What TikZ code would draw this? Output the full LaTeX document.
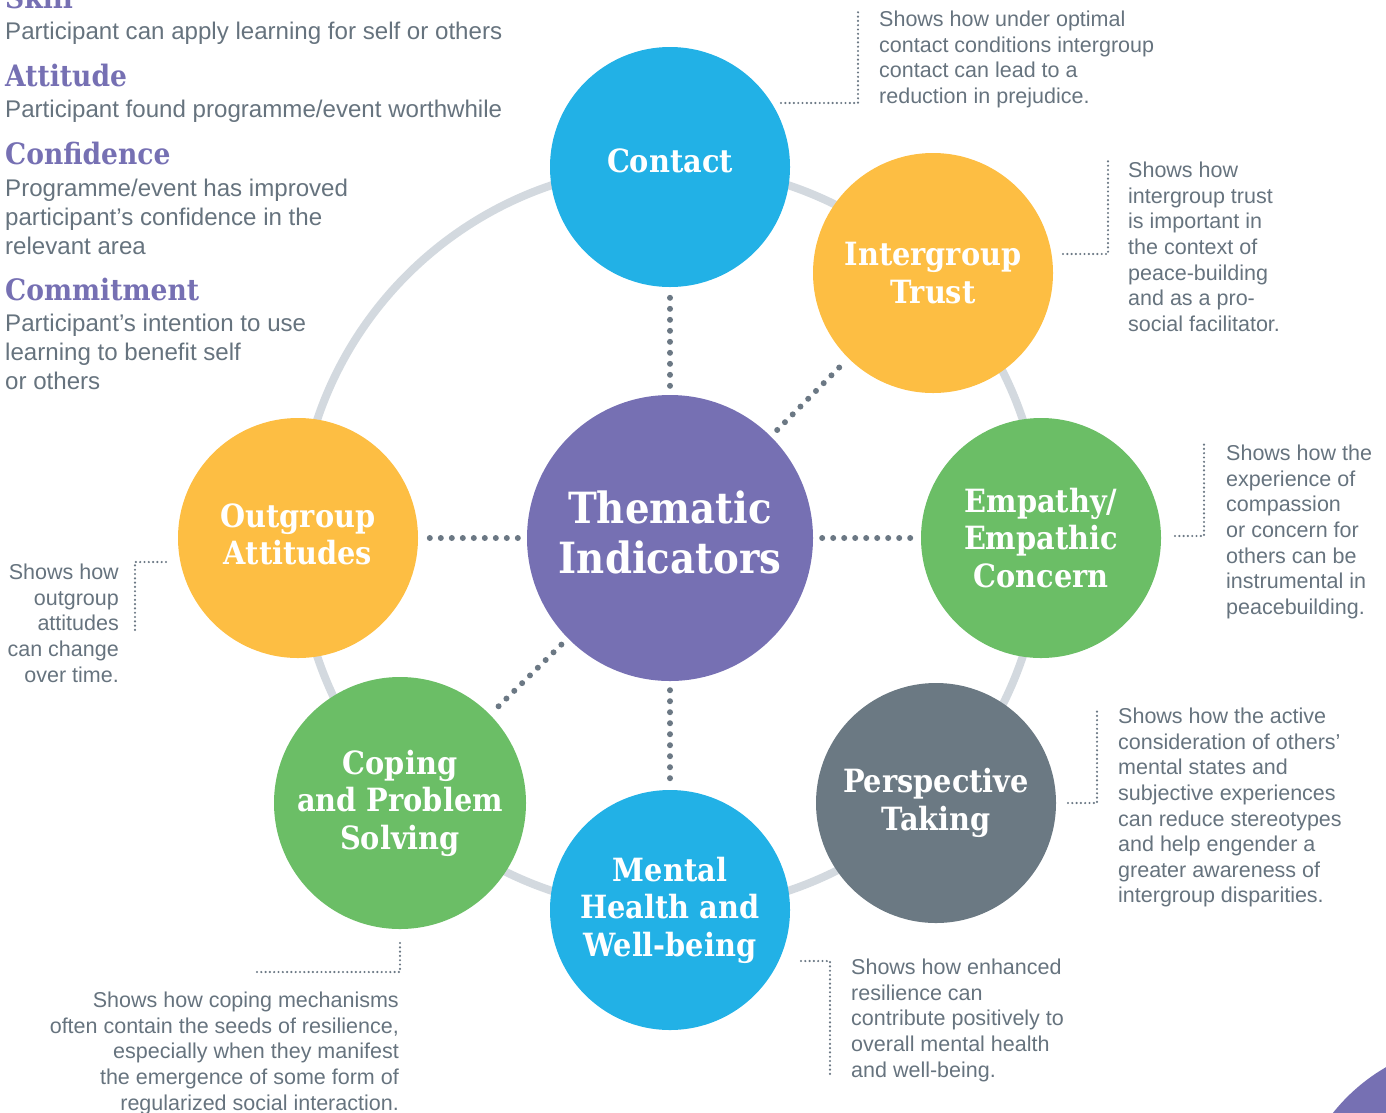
\documentclass[tikz,border=0pt]{standalone}
\usepackage{fontspec}
\setmainfont{Liberation Sans}
\newfontfamily\slabfont[FakeStretch=0.9]{DejaVu Serif}

\definecolor{cblue}{HTML}{22B1E6}
\definecolor{cyellow}{HTML}{FDBE43}
\definecolor{cgreen}{HTML}{6BBE66}
\definecolor{cslate}{HTML}{6B7983}
\definecolor{cpurple}{HTML}{7670B3}
\definecolor{cring}{HTML}{D3D9DF}
\definecolor{ctext}{HTML}{66737E}
\definecolor{cdot}{HTML}{6B7884}

\tikzset{
  bubble/.style={circle, minimum size=240pt, inner sep=0pt, text=white, align=center,
    font=\slabfont\bfseries\fontsize{32}{37.5}\selectfont},
  hubdots/.style={cdot, line width=6pt, line cap=round, dash pattern=on 0pt off 11pt,
    shorten <=9pt, shorten >=9pt},
  leader/.style={cdot, line width=2.4pt, line cap=round, dash pattern=on 0pt off 4.3pt},
  note/.style={text=ctext, font=\fontsize{21.5}{25.6}\selectfont, inner sep=0pt},
  heading/.style={text=cpurple, font=\slabfont\bfseries\fontsize{29.5}{30}\selectfont,
    inner sep=0pt, anchor=base west},
  body/.style={text=ctext, font=\fontsize{24.1}{28.6}\selectfont, inner sep=0pt,
    anchor=base west, align=left},
}

\begin{document}
\begin{tikzpicture}[x=1pt, y=-1pt]
\useasboundingbox (0,0) rectangle (1386,1112);
\begin{scope}
\clip (0,0) rectangle (1386,1112);

% corner disc
\fill[cpurple] (1480,1230) circle[radius=188];

% outer ring through the indicator bubbles
\draw[cring, line width=8pt] (670,538) circle[radius=372];

% indicator bubbles
\node[bubble, fill=cpurple, minimum size=286pt, text depth=12pt,
  font=\slabfont\bfseries\fontsize{43}{50}\selectfont] (hub) at (670,538) {Thematic\\Indicators};
\node[bubble, fill=cblue, text depth=12pt] (contact) at (670,167) {Contact};
\node[bubble, fill=cyellow] (trust) at (933,273) {Intergroup\\Trust};
\node[bubble, fill=cgreen] (empathy) at (1041,538) {Empathy/\\Empathic\\Concern};
\node[bubble, fill=cslate] (perspective) at (936,803) {Perspective\\Taking};
\node[bubble, fill=cblue] (mental) at (670,910) {Mental\\Health and\\Well-being};
\node[bubble, fill=cgreen, minimum size=252pt] (coping) at (400,803) {Coping\\and Problem\\Solving};
\node[bubble, fill=cyellow, text depth=8pt] (outgroup) at (298,538) {Outgroup\\Attitudes};

% dotted spokes from the hub
\draw[hubdots] (hub) -- (contact);
\draw[hubdots] (hub) -- (trust);
\draw[hubdots] (hub) -- (empathy);
\draw[hubdots] (hub) -- (mental);
\draw[hubdots] (hub) -- (coping);
\draw[hubdots] (hub) -- (outgroup);

% definitions list (multi-line blocks sit on their last baseline)
\node[heading] (hskill) at (5,8) {Skill};
\node[body] (bskill) at (5,39) {Participant can apply learning for self or others};
\node[heading] (hattitude) at (5,86) {Attitude};
\node[body] (battitude) at (5,117) {Participant found programme/event worthwhile};
\node[heading] (hconfidence) at (5,164) {Confidence};
\node[body] (bconfidence) at (5,254) {Programme/event has improved\\participant’s confidence in the\\relevant area};
\node[heading] (hcommitment) at (5,300) {Commitment};
\node[body] (bcommitment) at (5,389) {Participant’s intention to use\\learning to benefit self\\or others};

% notes and their dotted leaders
\node[note, anchor=north west, align=left] (ncontact) at (879,11)
  {Shows how under optimal\\contact conditions intergroup\\contact can lead to a\\reduction in prejudice.};
\coordinate (lc1) at (781,103);
\coordinate (lc2) at (858,10);
\draw[leader] (lc1) -| (lc2);

\node[note, anchor=north west, align=left] (ntrust) at (1128,162)
  {Shows how\\intergroup trust\\is important in\\the context of\\peace-building\\and as a pro-\\social facilitator.};
\coordinate (lt1) at (1063,254);
\coordinate (lt2) at (1108,161);
\draw[leader] (lt1) -| (lt2);

\node[note, anchor=north west, align=left] (nempathy) at (1226,445)
  {Shows how the\\experience of\\compassion\\or concern for\\others can be\\instrumental in\\peacebuilding.};
\coordinate (le1) at (1175,536);
\coordinate (le2) at (1204,444);
\draw[leader] (le1) -| (le2);

\node[note, anchor=north west, align=left] (nperspective) at (1118,708)
  {Shows how the active\\consideration of others’\\mental states and\\subjective experiences\\can reduce stereotypes\\and help engender a\\greater awareness of\\intergroup disparities.};
\coordinate (lp1) at (1068,803);
\coordinate (lp2) at (1097,710);
\draw[leader] (lp1) -| (lp2);

\node[note, anchor=north west, align=left] (nmental) at (851,959)
  {Shows how enhanced\\resilience can\\contribute positively to\\overall mental health\\and well-being.};
\coordinate (lm1) at (801,961);
\coordinate (lm2) at (830,1077);
\draw[leader] (lm1) -| (lm2);

\node[note, anchor=north east, align=right] (ncoping) at (399,992)
  {Shows how coping mechanisms\\often contain the seeds of resilience,\\especially when they manifest\\the emergence of some form of\\regularized social interaction.};
\coordinate (lg1) at (400,943);
\coordinate (lg2) at (256,972);
\draw[leader] (lg1) |- (lg2);

\node[note, anchor=north east, align=right] (noutgroup) at (119,564)
  {Shows how\\outgroup\\attitudes\\can change\\over time.};
\coordinate (lo1) at (166,562);
\coordinate (lo2) at (135,633);
\draw[leader] (lo1) -| (lo2);
\end{scope}
\end{tikzpicture}
\end{document}
